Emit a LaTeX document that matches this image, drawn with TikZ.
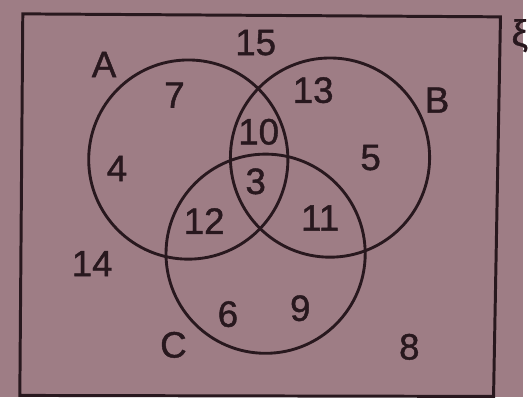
\documentclass[tikz,border=0pt]{standalone}
\usepackage{fontspec}
\setmainfont{Liberation Sans}
\newfontfamily\vennfont[FakeBold=1.2]{Liberation Sans}
\usetikzlibrary{positioning}
\definecolor{paper}{RGB}{158,125,133}
\definecolor{ink}{RGB}{40,24,30}

\begin{document}
\begin{tikzpicture}[x=1pt, y=-1pt,
  set/.style={draw=ink, line width=2.9pt, circle, minimum size=201pt, inner sep=0pt},
  num/.style={text=ink, inner sep=0pt, font=\vennfont\fontsize{37}{40}\selectfont}]
\fill[paper] (0,0) rectangle (528,401);
% frame of the universal set
\draw[ink, line width=3pt] (23,14) -- (505,17) -- (498,400) -- (20,399) -- cycle;
\node[num, anchor=west] (xi) at (516,36) {ξ};
% the three sets
\node[set] (setA) at (190,161) {};
\node[set] (setB) at (333,159) {};
\node[set] (setC) at (268,256) {};
\node[num] (lA) at (105,65) {A};
\node[num] (lB) at (441,101) {B};
\node[num] (lC) at (175,348) {C};
% counts
\node[num] (n15) at (258,43) {15};
\node[num] (n7) at (176,96) {7};
\node[num] (n13) at (316,91) {13};
\node[num] (n10) at (261,133) {10};
\node[num] (n4) at (118,170) {4};
\node[num] (n5) at (374,159) {5};
\node[num] (n3) at (258,183) {3};
\node[num] (n12) at (206,223) {12};
\node[num] (n11) at (323,220) {11};
\node[num] (n14) at (93,266) {14};
\node[num] (n6) at (230,317) {6};
\node[num] (n9) at (303,311) {9};
\node[num] (n8) at (413,350) {8};
\end{tikzpicture}
\end{document}
